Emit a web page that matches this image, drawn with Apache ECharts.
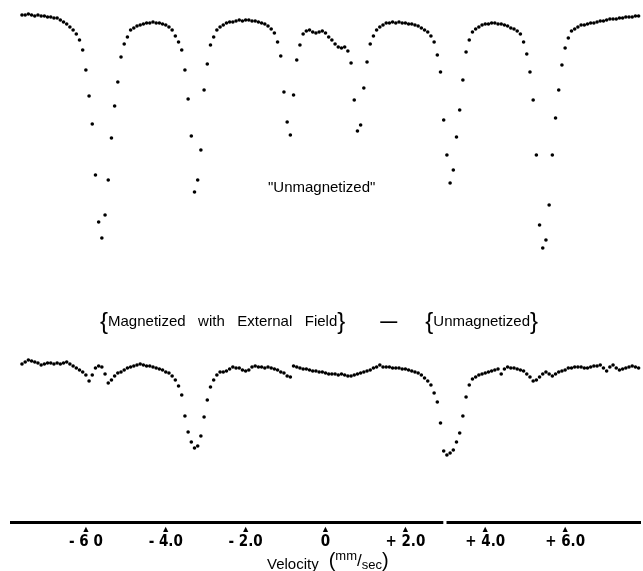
<!DOCTYPE html>
<html lang="en">
<head>
    <meta charset="UTF-8">
    <title>Mossbauer spectra</title>
    <script src="https://cdn.jsdelivr.net/npm/echarts@6/dist/echarts.min.js"></script>
    <style>
        body { margin: 0; background: #fff; }
        #main { width: 643px; height: 571px; }
    </style>
</head>
<body>
    <div id="main"></div>

    <script>
        // channel velocities (mm/sec)
        var velocity = [-7.60,-7.52,-7.44,-7.36,-7.28,-7.20,-7.12,-7.04,-6.96,-6.88,
            -6.80,-6.72,-6.64,-6.56,-6.48,-6.40,-6.32,-6.24,-6.16,-6.08,
            -6.00,-5.92,-5.84,-5.76,-5.68,-5.60,-5.52,-5.44,-5.36,-5.28,
            -5.20,-5.12,-5.04,-4.96,-4.88,-4.80,-4.72,-4.64,-4.56,-4.48,
            -4.40,-4.32,-4.24,-4.16,-4.08,-4.00,-3.92,-3.84,-3.76,-3.68,
            -3.60,-3.52,-3.44,-3.36,-3.28,-3.20,-3.12,-3.04,-2.96,-2.88,
            -2.80,-2.72,-2.64,-2.56,-2.48,-2.40,-2.32,-2.24,-2.16,-2.08,
            -2.00,-1.92,-1.84,-1.76,-1.68,-1.60,-1.52,-1.44,-1.36,-1.28,
            -1.20,-1.12,-1.04,-0.96,-0.88,-0.80,-0.72,-0.64,-0.56,-0.48,
            -0.40,-0.32,-0.24,-0.16,-0.08,0.00,0.08,0.16,0.24,0.32,
            0.40,0.48,0.56,0.64,0.72,0.80,0.88,0.96,1.04,1.12,
            1.20,1.28,1.36,1.44,1.52,1.60,1.68,1.76,1.84,1.92,
            2.00,2.08,2.16,2.24,2.32,2.40,2.48,2.56,2.64,2.72,
            2.80,2.88,2.96,3.04,3.12,3.20,3.28,3.36,3.44,3.52,
            3.60,3.68,3.76,3.84,3.92,4.00,4.08,4.16,4.24,4.32,
            4.40,4.48,4.56,4.64,4.72,4.80,4.88,4.96,5.04,5.12,
            5.20,5.28,5.36,5.44,5.52,5.60,5.68,5.76,5.84,5.92,
            6.00,6.08,6.16,6.24,6.32,6.40,6.48,6.56,6.64,6.72,
            6.80,6.88,6.96,7.04,7.12,7.20,7.28,7.36,7.44,7.52,
            7.60,7.68,7.76,7.84];

        // "Unmagnetized" spectrum, relative transmission (%)
        var unmagnetized = [100.0,100.0,100.1,100.0,99.9,100.0,99.9,99.9,99.8,99.8,
            99.7,99.7,99.5,99.3,99.1,98.8,98.5,98.1,97.5,96.5,
            94.5,91.9,89.1,84.0,79.3,77.7,80.0,83.5,87.7,90.9,
            93.3,95.8,97.1,97.8,98.5,98.7,98.9,99.0,99.1,99.2,
            99.2,99.3,99.2,99.2,99.1,99.0,98.8,98.5,97.9,97.3,
            96.5,94.5,91.6,87.9,82.3,83.5,86.5,92.5,95.1,97.0,
            97.8,98.5,98.8,99.0,99.2,99.3,99.3,99.4,99.5,99.4,
            99.5,99.5,99.4,99.4,99.3,99.2,99.1,98.9,98.6,98.2,
            97.3,95.9,92.3,89.3,88.0,92.0,95.5,97.0,98.1,98.4,
            98.5,98.3,98.2,98.3,98.4,98.2,97.8,97.5,97.1,96.8,
            96.7,96.8,96.4,95.2,91.5,88.4,89.0,92.7,95.3,97.1,
            97.9,98.5,98.8,99.0,99.2,99.2,99.3,99.2,99.3,99.2,
            99.2,99.1,99.1,99.0,98.9,98.7,98.5,98.3,97.9,97.3,
            96.0,94.3,89.5,86.0,83.2,84.5,87.8,90.5,93.5,96.3,
            97.5,98.3,98.6,98.8,99.0,99.1,99.1,99.2,99.2,99.1,
            99.1,99.0,98.9,98.7,98.6,98.4,98.1,97.3,96.1,94.3,
            91.5,86.0,79.0,76.7,77.5,81.0,86.0,89.7,92.5,95.0,
            96.7,97.7,98.4,98.6,98.8,99.0,99.0,99.1,99.2,99.2,
            99.3,99.4,99.4,99.5,99.6,99.6,99.6,99.7,99.7,99.8,
            99.8,99.8,99.9,99.9];

        // {Magnetized with External Field} - {Unmagnetized}, difference (%)
        var difference = [0.1,0.3,0.5,0.4,0.3,0.2,0.0,0.1,0.2,0.2,
            0.1,0.2,0.1,0.2,0.3,0.1,-0.1,-0.3,-0.5,-0.7,
            -1.0,-1.6,-1.0,-0.3,-0.1,-0.2,-0.9,-1.8,-1.5,-1.1,
            -0.8,-0.7,-0.5,-0.3,-0.2,-0.1,0.0,0.1,0.0,-0.1,
            -0.1,-0.2,-0.3,-0.4,-0.5,-0.7,-0.8,-1.1,-1.5,-2.1,
            -3.0,-5.1,-6.7,-7.7,-8.3,-8.1,-7.1,-5.2,-3.5,-2.2,
            -1.5,-1.0,-0.7,-0.7,-0.6,-0.4,-0.2,-0.3,-0.3,-0.5,
            -0.6,-0.5,-0.2,-0.1,-0.2,-0.2,-0.3,-0.2,-0.3,-0.4,
            -0.5,-0.7,-0.8,-1.1,-1.2,-0.1,-0.2,-0.3,-0.4,-0.4,
            -0.5,-0.6,-0.6,-0.7,-0.7,-0.8,-0.9,-0.9,-0.9,-1.0,
            -0.9,-1.0,-1.1,-1.1,-1.0,-0.9,-0.8,-0.7,-0.6,-0.5,
            -0.3,-0.2,0.0,-0.2,-0.2,-0.2,-0.3,-0.3,-0.3,-0.4,
            -0.4,-0.5,-0.6,-0.7,-0.8,-1.0,-1.3,-1.6,-2.0,-2.8,
            -3.7,-5.8,-8.6,-9.0,-8.8,-8.5,-7.7,-6.8,-5.1,-3.2,
            -2.0,-1.4,-1.2,-1.0,-0.9,-0.8,-0.7,-0.6,-0.5,-0.4,
            -0.9,-0.4,-0.2,-0.3,-0.3,-0.4,-0.5,-0.6,-0.9,-1.2,
            -1.6,-1.5,-1.2,-0.9,-0.7,-0.9,-1.1,-0.9,-0.7,-0.6,
            -0.5,-0.3,-0.3,-0.2,-0.2,-0.2,-0.3,-0.3,-0.2,-0.1,
            -0.1,0.0,-0.3,-0.6,-0.2,0.0,-0.3,-0.5,-0.4,-0.3,
            -0.2,-0.1,-0.2,-0.3];

        var tickValues = [-6, -4, -2, 0, 2, 4, 6];
        var tickLabels = ['- 6 0', '- 4.0', '- 2.0', '0', '+ 2.0', '+ 4.0', '+ 6.0'];

        var font = "'Liberation Sans', Arial, sans-serif";
        var narrow = "'Liberation Sans Narrow', 'DejaVu Sans Condensed', sans-serif";
        var ink = '#000';

        var myChart = echarts.init(document.getElementById('main'));

        var option = {
            backgroundColor: '#fff',
            animation: false,
            title: [
                {
                    text: '"Unmagnetized"',
                    left: 263, top: 175,
                    textStyle: { fontFamily: font, fontSize: 15, fontWeight: 'normal', color: ink }
                },
                {
                    text: '{{t|Magnetized   with   External   Field}}{d|—}{{t|Unmagnetized}}',
                    left: 95, top: 305,
                    textStyle: {
                        fontFamily: font, fontSize: 24, fontWeight: 'normal', color: ink,
                        rich: {
                            t: { fontFamily: font, fontSize: 15, fontWeight: 'normal', color: ink },
                            d: { fontFamily: font, fontSize: 17, fontWeight: 'bold', color: ink, padding: [0, 28, 0, 35] }
                        }
                    }
                },
                {
                    text: '{a|Velocity}  {p|(}{s|mm}{l|/}{b|sec}{p|)}',
                    left: 262, top: 545,
                    textStyle: {
                        fontWeight: 'normal',
                        rich: {
                            a: { fontFamily: font, fontSize: 15, fontWeight: 'normal', color: ink, lineHeight: 22, verticalAlign: 'bottom' },
                            p: { fontFamily: font, fontSize: 20, fontWeight: 'normal', color: ink, lineHeight: 22 },
                            s: { fontFamily: font, fontSize: 13, fontWeight: 'normal', color: ink, lineHeight: 14, verticalAlign: 'top' },
                            l: { fontFamily: font, fontSize: 17, fontWeight: 'normal', color: ink, lineHeight: 22 },
                            b: { fontFamily: font, fontSize: 13, fontWeight: 'normal', color: ink, lineHeight: 14, verticalAlign: 'bottom' }
                        }
                    }
                }
            ],
            grid: [
                { left: 10, right: 2, top: 10, height: 255 },
                { left: 10, right: 2, top: 330, height: 192 }
            ],
            xAxis: [
                { gridIndex: 0, type: 'value', min: -7.9, max: 7.9, show: false },
                {
                    gridIndex: 1, type: 'value', min: -7.9, max: 7.9,
                    axisLine: { show: false },
                    axisTick: { show: false },
                    splitLine: { show: false },
                    axisLabel: {
                        customValues: tickValues,
                        margin: 3,
                        formatter: function (v) {
                            var k = tickValues.indexOf(Math.round(v));
                            return k < 0 ? '' : '{t|▲}\n{v|' + tickLabels[k] + '}';
                        },
                        rich: {
                            t: { fontSize: 9, lineHeight: 9, color: ink, align: 'center' },
                            v: { fontFamily: narrow, fontSize: 15, fontWeight: 'bold', lineHeight: 17, color: ink, align: 'center' }
                        }
                    }
                }
            ],
            yAxis: [
                { gridIndex: 0, type: 'value', min: 75, max: 100.5, show: false },
                { gridIndex: 1, type: 'value', min: -15.7, max: 3.5, show: false }
            ],
            series: [
                {
                    name: 'Unmagnetized',
                    type: 'scatter',
                    xAxisIndex: 0, yAxisIndex: 0,
                    symbol: 'circle', symbolSize: 3.6,
                    itemStyle: { color: ink, opacity: 1 },
                    data: velocity.map(function (v, i) { return [v, unmagnetized[i]]; })
                },
                {
                    name: 'Difference',
                    type: 'scatter',
                    xAxisIndex: 1, yAxisIndex: 1,
                    symbol: 'circle', symbolSize: 3.6,
                    itemStyle: { color: ink, opacity: 1 },
                    data: velocity.map(function (v, i) { return [v, difference[i]]; }),
                    // velocity axis, drawn with the small break near +3
                    markLine: {
                        silent: true,
                        symbol: 'none',
                        label: { show: false },
                        lineStyle: { color: ink, width: 3, type: 'solid', opacity: 1 },
                        data: [
                            [{ coord: [-7.9, -15.7] }, { coord: [2.95, -15.7] }],
                            [{ coord: [3.03, -15.7] }, { coord: [7.9, -15.7] }]
                        ]
                    }
                }
            ]
        };

        myChart.setOption(option);
    </script>
</body>
</html>
